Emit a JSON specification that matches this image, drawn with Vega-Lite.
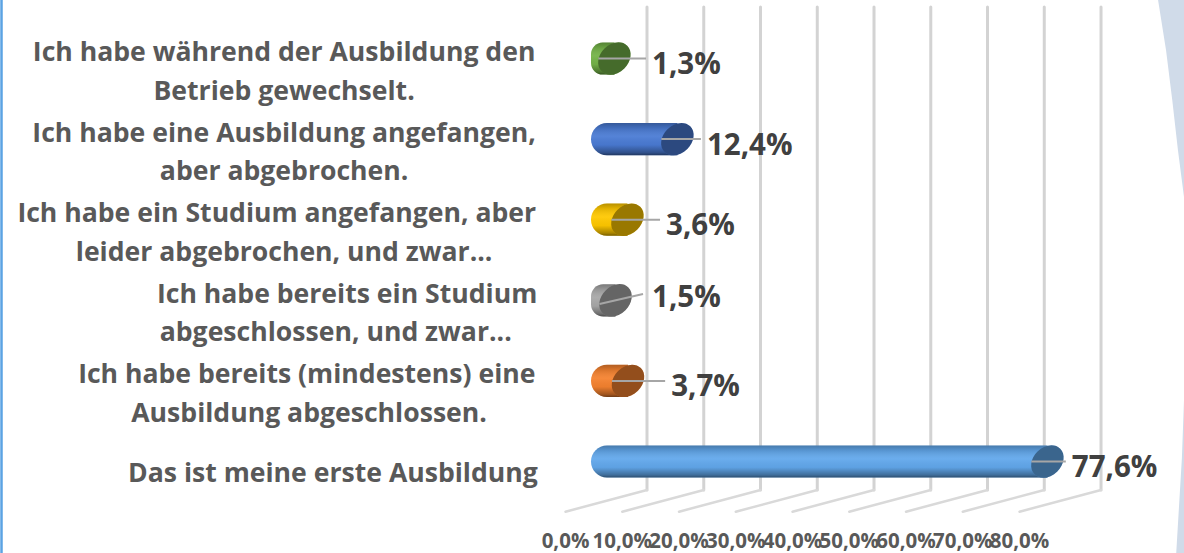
{"$schema":"https://vega.github.io/schema/vega-lite/v6.json","width":1184,"height":553,"padding":0,"autosize":{"type":"none"},"background":"white","config":{"view":{"stroke":null}},
"datasets":{
"bars":[
{"category":"Betrieb","value":1.3,"valueText":"1,3%","labelPos":7.93},
{"category":"AusbAbbruch","value":12.4,"valueText":"12,4%","labelPos":17.6},
{"category":"StudAbbruch","value":3.6,"valueText":"3,6%","labelPos":10.4},
{"category":"StudAbschluss","value":1.5,"valueText":"1,5%","labelPos":7.93},
{"category":"AusbAbschluss","value":3.7,"valueText":"3,7%","labelPos":11.3},
{"category":"Erste","value":77.6,"valueText":"77,6%","labelPos":81.9}],
"lines":[
{"category":"Betrieb","line":1,"text":"Ich habe während der Ausbildung den","center":-56.9},
{"category":"Betrieb","line":2,"text":"Betrieb gewechselt.","center":-56.9},
{"category":"AusbAbbruch","line":1,"text":"Ich habe eine Ausbildung angefangen,","center":-56.9},
{"category":"AusbAbbruch","line":2,"text":"aber abgebrochen.","center":-56.9},
{"category":"StudAbbruch","line":1,"text":"Ich habe ein Studium angefangen, aber","center":-58.2},
{"category":"StudAbbruch","line":2,"text":"leider abgebrochen, und zwar...","center":-56.9},
{"category":"StudAbschluss","line":1,"text":"Ich habe bereits ein Studium","center":-45.8},
{"category":"StudAbschluss","line":2,"text":"abgeschlossen, und zwar...","center":-47.8},
{"category":"AusbAbschluss","line":1,"text":"Ich habe bereits (mindestens) eine","center":-52.9},
{"category":"AusbAbschluss","line":2,"text":"Ausbildung abgeschlossen.","center":-52.5},
{"category":"Erste","line":0,"text":"Das ist meine erste Ausbildung","center":-48.3}],
"ticks":[{"tick":0,"t":"0,0%"},{"tick":10,"t":"10,0%"},{"tick":20,"t":"20,0%"},{"tick":30,"t":"30,0%"},{"tick":40,"t":"40,0%"},{"tick":50,"t":"50,0%"},{"tick":60,"t":"60,0%"},{"tick":70,"t":"70,0%"},{"tick":80,"t":"80,0%"}],
"edge":[{"part":"top","level":0,"pos":97.1},{"part":"top","level":50,"pos":98.5},{"part":"top","level":100,"pos":99.6},{"part":"top","level":150,"pos":100.6},{"part":"top","level":197,"pos":101.67},
{"part":"bottom","level":400,"pos":101.67},{"part":"bottom","level":458,"pos":101.3},{"part":"bottom","level":553,"pos":100.3}]
},
"resolve":{"scale":{"y":"independent"}},
"layer":[
{"layer":[
{"data":{"name":"edge"},"mark":{"type":"area","orient":"horizontal","color":"#d0dbe9"},"encoding":{"x":{"field":"pos","type":"quantitative","scale":{"domain":[-106.96,101.67],"nice":false,"zero":false},"axis":null},"x2":{"datum":101.67},"y":{"field":"level","type":"quantitative","scale":{"domain":[0,553],"range":[0,553],"nice":false,"zero":false},"axis":null},"detail":{"field":"part"}}},
{"data":{"name":"ticks"},"transform":[{"filter":"datum.tick===0"}],"mark":{"type":"rule","color":"#5ba3e3","strokeWidth":2.5,"xOffset":-605.5},"encoding":{"x":{"field":"tick","type":"quantitative","axis":null}}},
{"data":{"name":"ticks"},"mark":{"type":"rule","color":"#d3d3d3","strokeWidth":3,"strokeCap":"round","xOffset":40},"encoding":{"x":{"field":"tick","type":"quantitative","axis":null},"y":{"datum":7,"type":"quantitative","axis":null},"y2":{"datum":490}}},
{"data":{"name":"ticks"},"mark":{"type":"rule","color":"#d9d9d9","strokeWidth":2.5,"strokeCap":"round","xOffset":40,"x2Offset":-41.5},"encoding":{"x":{"field":"tick","type":"quantitative","axis":null},"x2":{"field":"tick"},"y":{"datum":490,"type":"quantitative","axis":null},"y2":{"datum":511.7}}},
{"data":{"name":"ticks"},"mark":{"type":"text","font":"Open Sans","fontWeight":"bold","fontSize":20.5,"color":"#595959","xOffset":-41.5,"align":"center","baseline":"middle"},"encoding":{"x":{"field":"tick","type":"quantitative","axis":null},"y":{"datum":542,"type":"quantitative","axis":null},"text":{"field":"t"}}}
]},
{"data":{"name":"bars"},
"encoding":{"y":{"field":"category","type":"nominal","sort":null,"axis":null,"scale":{"domain":["Betrieb","AusbAbbruch","StudAbbruch","StudAbschluss","AusbAbschluss","Erste"],"range":[18.2,501.8],"paddingInner":0.6,"paddingOuter":0.3}}},
"layer":[
{"mark":{"type":"bar","cornerRadiusTopLeft":16,"cornerRadiusBottomLeft":16},"encoding":{"x":{"field":"value","type":"quantitative","axis":null},"x2":{"datum":-2.82},"color":{"field":"category","type":"nominal","legend":null,"scale":{"domain":["Betrieb","AusbAbbruch","StudAbbruch","StudAbschluss","AusbAbschluss","Erste"],"range":["#74b348","#4a7bd4","#ffc800","#a8a8a8","#f5822f","#62a8ec"]}}}},
{"mark":{"type":"bar","cornerRadiusTopLeft":16,"cornerRadiusBottomLeft":16,"fill":{"gradient":"linear","x1":0,"y1":0,"x2":0,"y2":1,"stops":[{"offset":0,"color":"rgba(0,0,0,0.28)"},{"offset":0.15,"color":"rgba(0,0,0,0.12)"},{"offset":0.42,"color":"rgba(255,255,255,0.06)"},{"offset":0.68,"color":"rgba(0,0,0,0.04)"},{"offset":0.92,"color":"rgba(0,0,0,0.35)"},{"offset":1,"color":"rgba(0,0,0,0.55)"}]}},"encoding":{"x":{"field":"value","type":"quantitative","axis":null},"x2":{"datum":-2.82}}},
{"mark":{"type":"point","filled":true,"opacity":1,"shape":"M0.778,-0.778 A1.1,0.85,-45,1,1,-0.778,0.778 A1.1,0.85,-45,1,1,0.778,-0.778 Z","size":1089},"encoding":{"x":{"field":"value","type":"quantitative","axis":null},"color":{"field":"category","type":"nominal","legend":null}}},
{"mark":{"type":"point","filled":true,"opacity":0.4,"color":"#000000","shape":"M0.778,-0.778 A1.1,0.85,-45,1,1,-0.778,0.778 A1.1,0.85,-45,1,1,0.778,-0.778 Z","size":1089},"encoding":{"x":{"field":"value","type":"quantitative","axis":null}}},
{"transform":[{"filter":"datum.category!=='StudAbschluss'"}],"mark":{"type":"rule","color":"#a6a6a6","strokeWidth":2,"xOffset":-16,"x2Offset":-6},"encoding":{"x":{"field":"value","type":"quantitative","axis":null},"x2":{"field":"labelPos"}}},
{"transform":[{"filter":"datum.category!=='StudAbschluss'"}],"mark":{"type":"text","font":"Open Sans","fontWeight":"bold","fontSize":29.5,"color":"#404040","align":"left","baseline":"middle","dy":6.5},"encoding":{"x":{"field":"labelPos","type":"quantitative","axis":null},"text":{"field":"valueText"}}},
{"transform":[{"filter":"datum.category==='StudAbschluss'"}],"mark":{"type":"text","font":"Open Sans","fontWeight":"bold","fontSize":29.5,"color":"#404040","align":"left","baseline":"middle","dy":-2},"encoding":{"x":{"field":"labelPos","type":"quantitative","axis":null},"text":{"field":"valueText"}}},
{"data":{"name":"lines"},"transform":[{"filter":"datum.line===1"}],"mark":{"type":"text","font":"Open Sans","fontWeight":"bold","fontSize":26.6,"color":"#595959","align":"center","baseline":"middle","dy":-5.5},"encoding":{"x":{"field":"center","type":"quantitative","axis":null},"text":{"field":"text"}}},
{"data":{"name":"lines"},"transform":[{"filter":"datum.line===2"}],"mark":{"type":"text","font":"Open Sans","fontWeight":"bold","fontSize":26.6,"color":"#595959","align":"center","baseline":"middle","dy":33},"encoding":{"x":{"field":"center","type":"quantitative","axis":null},"text":{"field":"text"}}},
{"data":{"name":"lines"},"transform":[{"filter":"datum.line===0"}],"mark":{"type":"text","font":"Open Sans","fontWeight":"bold","fontSize":26.6,"color":"#595959","align":"center","baseline":"middle","dy":12},"encoding":{"x":{"field":"center","type":"quantitative","axis":null},"text":{"field":"text"}}}
]},
{"data":{"name":"bars"},"transform":[{"filter":"datum.category==='StudAbschluss'"}],"mark":{"type":"rule","color":"#a6a6a6","strokeWidth":2,"xOffset":-16,"x2Offset":-9},"encoding":{"x":{"field":"value","type":"quantitative","axis":null},"x2":{"field":"labelPos"},"y":{"datum":304,"type":"quantitative","axis":null,"scale":{"domain":[0,553],"range":[0,553],"nice":false,"zero":false}},"y2":{"datum":294}}}
]}
